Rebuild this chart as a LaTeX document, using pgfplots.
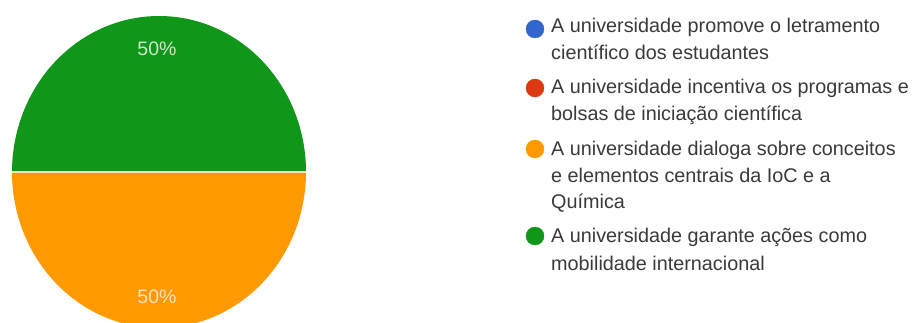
\documentclass[border=0pt]{standalone}
\usepackage{pgfplots}
\pgfplotsset{compat=1.18}
\usepackage{pgfplotstable}
\usepackage{fontspec}
\setmainfont{Liberation Sans}
\definecolor{gblue}{HTML}{3366CC}
\definecolor{gred}{HTML}{DC3912}
\definecolor{gorange}{HTML}{FF9900}
\definecolor{ggreen}{HTML}{109618}
\definecolor{txt}{HTML}{3A3A3A}

% pie values (percent): promove, incentiva, dialoga, garante
\pgfplotstableread{
value
0
0
50
50
}\piedata
\pgfplotstablegetelem{0}{value}\of\piedata \let\vBlue\pgfplotsretval
\pgfplotstablegetelem{1}{value}\of\piedata \let\vRed\pgfplotsretval
\pgfplotstablegetelem{2}{value}\of\piedata \let\vOrange\pgfplotsretval
\pgfplotstablegetelem{3}{value}\of\piedata \let\vGreen\pgfplotsretval
\pgfmathsetmacro\aA{180+3.6*\vBlue+3.6*\vRed}
\pgfmathsetmacro\aB{\aA+3.6*\vOrange}
\pgfmathsetmacro\aC{\aB+3.6*\vGreen}

\begin{document}
\begin{tikzpicture}
\useasboundingbox (0,0) rectangle (912pt,322pt);
\begin{axis}[
  scale only axis, width=912pt, height=322pt,
  xmin=0, xmax=912, ymin=0, ymax=322,
  hide axis, clip=true,
]
% pie slices
\fill[gorange] (axis cs:159,150) -- ++(\aA:147pt and 156pt)
   arc[start angle=\aA, end angle=\aB, x radius=147pt, y radius=156pt] -- cycle;
\fill[ggreen] (axis cs:159,150) -- ++(\aB:147pt and 156pt)
   arc[start angle=\aB, end angle=\aC, x radius=147pt, y radius=156pt] -- cycle;
\draw[white!70!gorange, line width=1.2pt] (axis cs:12,150) -- (axis cs:306,150);
\node[text=white!78!ggreen, font=\fontsize{19.5}{22}\selectfont] at (axis cs:157,273) {50\%};
\node[text=white!72!gorange, font=\fontsize{19.5}{22}\selectfont] at (axis cs:157,25) {50\%};

% legend markers
\addplot[gblue, only marks, mark=*, mark size=9pt, mark options={draw=gblue, fill=gblue}] coordinates {(535,293)};
\addplot[gred, only marks, mark=*, mark size=9pt, mark options={draw=gred, fill=gred}] coordinates {(535,234)};
\addplot[gorange, only marks, mark=*, mark size=9pt, mark options={draw=gorange, fill=gorange}] coordinates {(535,173)};
\addplot[ggreen, only marks, mark=*, mark size=9pt, mark options={draw=ggreen, fill=ggreen}] coordinates {(535,86)};

% legend text
\begin{scope}[every node/.style={anchor=base west, inner sep=0pt, text=txt, font=\fontsize{19.8}{26}\selectfont}]
\node at (axis cs:551,289) {A universidade promove o letramento};
\node at (axis cs:551,262) {científico dos estudantes};
\node at (axis cs:551,229) {A universidade incentiva os programas e};
\node at (axis cs:551,202) {bolsas de iniciação científica};
\node at (axis cs:551,166.5) {A universidade dialoga sobre conceitos};
\node at (axis cs:551,140) {e elementos centrais da IoC e a};
\node at (axis cs:551,113.5) {Química};
\node at (axis cs:551,79.5) {A universidade garante ações como};
\node at (axis cs:551,51.5) {mobilidade internacional};
\end{scope}
\end{axis}
\end{tikzpicture}
\end{document}
